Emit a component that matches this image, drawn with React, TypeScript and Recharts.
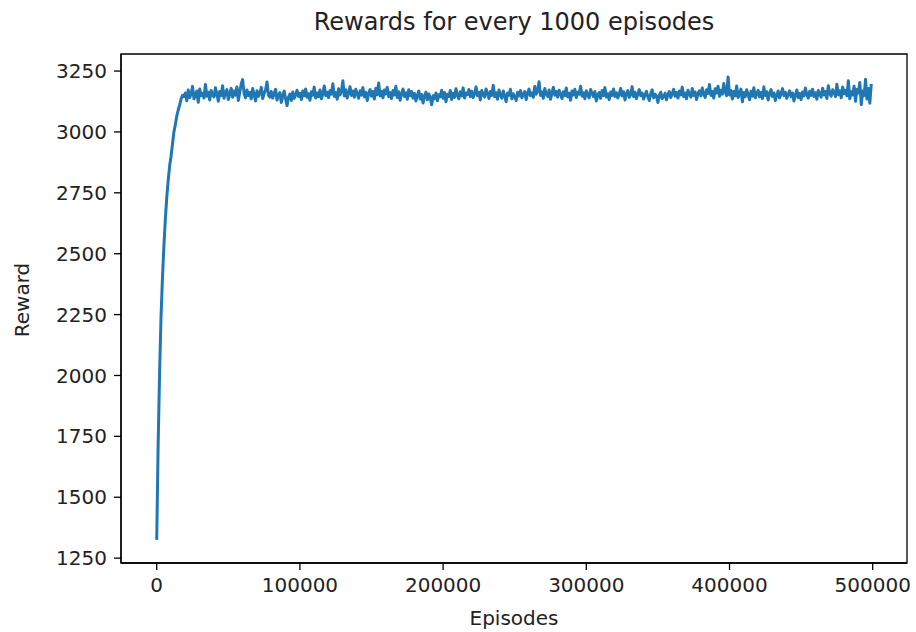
import { LineChart, Line, XAxis, YAxis, ReferenceArea } from "recharts"

// reward averaged over every 1000 episodes (one value per 1000 episodes)
const rewards = [
  1325, 1720, 2010, 2240, 2400, 2530, 2640, 2730, 2800, 2860, 2900, 2950, 3000, 3030, 3065, 3090, 3110, 3135, 3150, 3145,
  3160, 3128, 3172, 3141, 3155, 3187, 3136, 3150, 3168, 3122, 3176, 3149, 3158, 3139, 3195, 3147, 3163, 3131, 3170, 3152,
  3144, 3181, 3157, 3126, 3166, 3149, 3190, 3138, 3161, 3174, 3133, 3156, 3179, 3142, 3168, 3151, 3185, 3129, 3164, 3197,
  3215, 3158, 3140, 3172, 3149, 3163, 3136, 3178, 3154, 3127, 3169, 3146, 3160, 3183, 3137, 3158, 3172, 3205, 3150, 3143,
  3166, 3139, 3157, 3175, 3131, 3150, 3162, 3121, 3147, 3168, 3135, 3108, 3143, 3155, 3129, 3164, 3138, 3152, 3171, 3146,
  3159, 3133, 3168, 3148, 3176, 3142, 3157, 3130, 3165, 3151, 3184, 3139, 3160, 3145, 3172, 3136, 3158, 3189, 3149, 3163,
  3141, 3170, 3155, 3198, 3146, 3162, 3134, 3177, 3152, 3166, 3210, 3148, 3173, 3139, 3161, 3186, 3150, 3168, 3143, 3175,
  3157, 3138, 3169, 3151, 3182, 3144, 3163, 3129, 3158, 3174, 3147, 3166, 3135, 3179, 3153, 3201, 3148, 3167, 3140, 3172,
  3156, 3183, 3145, 3162, 3137, 3170, 3152, 3188, 3141, 3165, 3130, 3157, 3176, 3146, 3161, 3134, 3173, 3149, 3166, 3139,
  3158, 3127, 3150, 3168, 3135, 3154, 3119, 3147, 3163, 3132, 3156, 3141, 3112, 3149, 3137, 3160, 3128, 3153, 3144, 3171,
  3138, 3162, 3124, 3155, 3146, 3170, 3133, 3159, 3142, 3177, 3150, 3136, 3165, 3148, 3181, 3139, 3160, 3153, 3174, 3145,
  3167, 3141, 3158, 3185, 3149, 3163, 3131, 3170, 3154, 3143, 3176, 3159, 3137, 3166, 3150, 3192, 3144, 3161, 3134, 3172,
  3153, 3139, 3168, 3147, 3124, 3160, 3151, 3175, 3136, 3157, 3145, 3129, 3163, 3148, 3170, 3140, 3155, 3166, 3133, 3158,
  3176, 3149, 3161, 3142, 3187, 3155, 3169, 3206, 3150, 3164, 3138, 3178, 3157, 3146, 3172, 3134, 3160, 3183, 3151, 3166,
  3143, 3171, 3156, 3137, 3165, 3149, 3180, 3144, 3159, 3130, 3168, 3152, 3175, 3141, 3163, 3155, 3188, 3147, 3161, 3136,
  3169, 3153, 3140, 3174, 3158, 3145, 3166, 3127, 3151, 3162, 3138, 3170, 3149, 3182, 3143, 3157, 3133, 3164, 3150, 3176,
  3146, 3161, 3139, 3155, 3179, 3148, 3165, 3131, 3158, 3170, 3142, 3153, 3186, 3145, 3163, 3137, 3156, 3174, 3149, 3160,
  3135, 3152, 3167, 3144, 3129, 3158, 3173, 3140, 3155, 3148, 3121, 3150, 3163, 3137, 3145, 3159, 3132, 3154, 3166, 3141,
  3157, 3175, 3147, 3162, 3139, 3168, 3152, 3184, 3145, 3160, 3136, 3171, 3155, 3143, 3178, 3150, 3164, 3133, 3159, 3169,
  3148, 3180, 3156, 3142, 3173, 3158, 3195, 3150, 3166, 3139, 3177, 3160, 3188, 3146, 3171, 3155, 3199, 3163, 3149, 3226,
  3152, 3170, 3135, 3166, 3148, 3189, 3141, 3158, 3176, 3124, 3162, 3145, 3173, 3153, 3132, 3167, 3147, 3181, 3140, 3159,
  3171, 3144, 3162, 3137, 3185, 3150, 3165, 3131, 3158, 3174, 3146, 3160, 3129, 3152, 3168, 3140, 3157, 3178, 3149, 3163,
  3138, 3155, 3169, 3145, 3160, 3127, 3151, 3172, 3141, 3158, 3133, 3164, 3148, 3180, 3154, 3139, 3167, 3150, 3175, 3146,
  3161, 3134, 3170, 3156, 3143, 3179, 3152, 3166, 3137, 3190, 3158, 3147, 3173, 3162, 3145, 3196, 3153, 3169, 3140, 3184,
  3157, 3171, 3148, 3210, 3136, 3165, 3152, 3188, 3126, 3174, 3160, 3203, 3112, 3168, 3149, 3216, 3135, 3178, 3118, 3197,
]

const EPISODE_STEP = 1000
const xTicks = [0, 100000, 200000, 300000, 400000, 500000]
const yTicks = [1250, 1500, 1750, 2000, 2250, 2500, 2750, 3000, 3250]

const data = rewards.map((r, i) => ({ episode: i * EPISODE_STEP, reward: r }))

const FONT = "'DejaVu Sans', sans-serif"
const xDomain = [-24950, 523950]
const yDomain = [1230, 3320]
const tickStyle = { fontFamily: FONT, fontSize: 20, fill: "#222" }
const spine = { stroke: "#000", strokeWidth: 1.3 }

export default function App() {
  return (
    <div style={{ position: "absolute", left: 0, top: 0, width: 916, height: 632, background: "#fff" }}>
      <LineChart width={916} height={632} data={data} margin={{ top: 54, right: 9, left: 0, bottom: 0 }}>
        <XAxis
          dataKey="episode"
          type="number"
          domain={xDomain}
          ticks={xTicks}
          allowDataOverflow
          height={69}
          tickSize={7}
          tickMargin={8}
          axisLine={spine}
          tickLine={spine}
          tick={tickStyle}
        />
        <YAxis
          type="number"
          domain={yDomain}
          ticks={yTicks}
          allowDataOverflow
          width={121}
          tickSize={7}
          tickMargin={7}
          axisLine={spine}
          tickLine={spine}
          tick={tickStyle}
        />
        {/* box around the plot area (top and right spines) */}
        <ReferenceArea
          x1={xDomain[0]}
          x2={xDomain[1]}
          y1={yDomain[0]}
          y2={yDomain[1]}
          fill="none"
          stroke="#000"
          strokeWidth={1.3}
          ifOverflow="visible"
        />
        <Line
          dataKey="reward"
          stroke="#1f77b4"
          strokeWidth={3}
          strokeLinejoin="round"
          dot={false}
          activeDot={false}
          isAnimationActive={false}
        />
      </LineChart>
      <div style={{ position: "absolute", left: 121, width: 786, top: 8, textAlign: "center", fontFamily: FONT, fontSize: 24, color: "#222" }}>
        Rewards for every 1000 episodes
      </div>
      <div style={{ position: "absolute", left: 121, width: 786, top: 606, textAlign: "center", fontFamily: FONT, fontSize: 20, color: "#222" }}>
        Episodes
      </div>
      <div
        style={{
          position: "absolute",
          left: 22,
          top: 300,
          transform: "translate(-50%, -50%) rotate(-90deg)",
          fontFamily: FONT,
          fontSize: 20,
          color: "#222",
          whiteSpace: "nowrap",
        }}
      >
        Reward
      </div>
    </div>
  )
}
